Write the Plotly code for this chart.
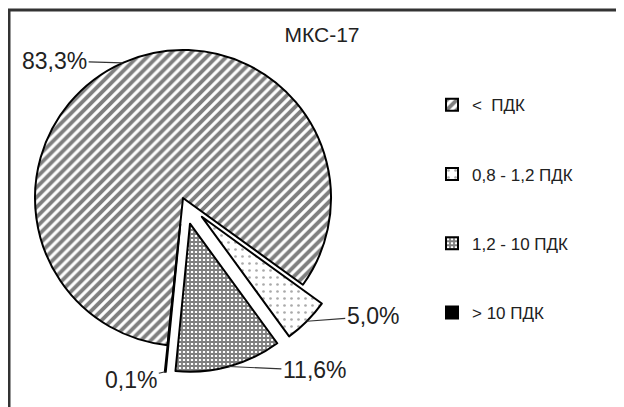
import math
import plotly.graph_objects as go

# ---- data ----
categories = ["<  ПДК", "0,8 - 1,2 ПДК", "1,2 - 10 ПДК", "> 10 ПДК"]
values = [83.3, 5.0, 11.6, 0.1]
title_text = "МКС-17"

# ---- styles ----
pulls = [0, 0.18, 0.18, 0.18]
pattern_shapes = ["/", ".", "+", ""]
pattern_fg = ["#000000", "#555555", "#000000", "#000000"]
pattern_bg = ["#ffffff", "#ffffff", "#ffffff", "#000000"]
pattern_size = [7, 7, 4, 4]
pattern_solid = [0.55, 0.12, 0.7, 0.3]
# label text offsets (px) from the leader-line tip
label_offsets = [(-68, -2), (66, -5), (86, 4), (-34, 8)]

# page body has an 8px margin: lay out in window pixels, then shift
OFF = 8
W, H = 624 - OFF, 407 - OFF
cx, cy, r = 183 - OFF, 198 - OFF, 148
rotation = 186
half = r * (1 + max(pulls))


def px(x):
    return min(max(x / W, 0), 1)


def py(y):
    return min(max(1 - y / H, 0), 1)


legend_labels = ["\u00a0<br>" + c + "<br>\u00a0" for c in categories]

fig = go.Figure(
    go.Pie(
        labels=legend_labels,
        values=values,
        sort=False,
        direction="clockwise",
        rotation=rotation,
        pull=pulls,
        textposition="none",
        marker=dict(
            colors=pattern_bg,
            line=dict(color="#000000", width=2),
            pattern=dict(
                shape=pattern_shapes,
                fgcolor=pattern_fg,
                bgcolor=pattern_bg,
                size=pattern_size,
                solidity=pattern_solid,
                fillmode="overlay",
            ),
        ),
        domain=dict(
            x=[px(cx - half), px(cx + half)],
            y=[py(cy + half), py(cy - half)],
        ),
        automargin=False,
        showlegend=True,
    )
)

# percentage labels with leader lines, tips computed from slice mid-angles
total = sum(values)
annotations = []
start = rotation
for v, p, (ox, oy) in zip(values, pulls, label_offsets):
    span = 360 * v / total
    mid = math.radians(start + span / 2)
    start += span
    rr = r * (1 + p)
    tx = cx + rr * math.sin(mid)
    ty = cy - rr * math.cos(mid)
    annotations.append(
        dict(
            x=tx / W,
            y=1 - ty / H,
            xref="paper",
            yref="paper",
            text=f"{v:.1f}%".replace(".", ","),
            showarrow=True,
            arrowhead=0,
            arrowwidth=1.2,
            arrowcolor="#333333",
            ax=ox,
            ay=oy,
            standoff=0,
            font=dict(family="Liberation Sans", size=23, color="#222222"),
        )
    )

fig.update_layout(
    width=W,
    height=H,
    margin=dict(l=0, r=0, t=0, b=0),
    paper_bgcolor="#ffffff",
    plot_bgcolor="#ffffff",
    font=dict(family="Liberation Sans", color="#222222"),
    title=dict(
        text=title_text,
        x=px(322 - OFF),
        xanchor="center",
        y=py(35 - OFF),
        yanchor="middle",
        font=dict(family="Liberation Sans", size=21, color="#222222"),
    ),
    legend=dict(
        x=px(432 - OFF),
        xanchor="left",
        y=py(65 - OFF),
        yanchor="top",
        font=dict(family="Liberation Sans", size=17, color="#222222"),
        bgcolor="rgba(0,0,0,0)",
        itemclick=False,
    ),
    annotations=annotations,
    shapes=[
        dict(
            type="rect",
            xref="paper",
            yref="paper",
            x0=1 / W,
            x1=(620 - OFF) / W,
            y0=-0.05,
            y1=1 - (10 - OFF) / H,
            line=dict(color="#333333", width=3),
            fillcolor="rgba(0,0,0,0)",
            layer="below",
        )
    ],
)

fig.write_html("out.html")
